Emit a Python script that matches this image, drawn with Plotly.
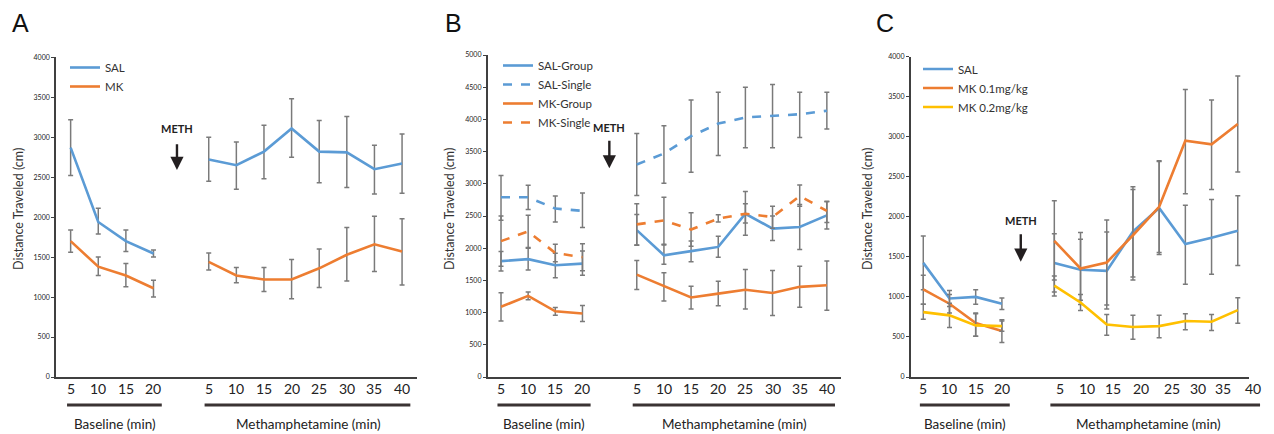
import plotly.graph_objects as go

# ---------------- data ----------------
base_min = ["5", "10", "15", "20"]
meth_min = ["5", "10", "15", "20", "25", "30", "35", "40"]

# Panel A
a_sal_base = [2870, 1940, 1700, 1545]
a_sal_base_hi = [3220, 2110, 1840, 1590]
a_sal_base_lo = [2520, 1790, 1570, 1500]
a_mk_base = [1700, 1380, 1270, 1110]
a_mk_base_hi = [1840, 1500, 1420, 1210]
a_mk_base_lo = [1560, 1270, 1130, 1000]
a_sal_meth = [2720, 2650, 2820, 3110, 2820, 2810, 2600, 2670]
a_sal_meth_hi = [3000, 2940, 3150, 3480, 3210, 3260, 2900, 3040]
a_sal_meth_lo = [2450, 2350, 2480, 2750, 2430, 2370, 2290, 2300]
a_mk_meth = [1440, 1270, 1220, 1220, 1360, 1530, 1660, 1570]
a_mk_meth_hi = [1550, 1370, 1370, 1470, 1600, 1870, 2010, 1980]
a_mk_meth_lo = [1340, 1180, 1070, 980, 1120, 1200, 1320, 1150]

# Panel B
b_salg_base = [1800, 1830, 1735, 1760]
b_salg_base_hi = [1950, 2000, 1920, 1957]
b_salg_base_lo = [1646, 1660, 1540, 1580]
b_sals_base = [2790, 2790, 2615, 2580]
b_sals_base_hi = [3130, 2977, 2810, 2857]
b_sals_base_lo = [2433, 2600, 2407, 2320]
b_mkg_base = [1090, 1260, 1020, 985]
b_mkg_base_hi = [1310, 1320, 1080, 1110]
b_mkg_base_lo = [870, 1200, 960, 860]
b_mks_base = [2110, 2260, 1925, 1860]
b_mks_base_hi = [2500, 2511, 2061, 2071]
b_mks_base_lo = [1720, 2009, 1790, 1650]
b_salg_meth = [2280, 1890, 1955, 2020, 2535, 2305, 2330, 2510]
b_salg_meth_hi = [2525, 2050, 2110, 2185, 2690, 2500, 2680, 2720]
b_salg_meth_lo = [2045, 1750, 1790, 1860, 2390, 2120, 1980, 2300]
b_sals_meth = [3300, 3470, 3740, 3935, 4030, 4050, 4080, 4135]
b_sals_meth_hi = [3780, 3900, 4300, 4420, 4500, 4540, 4420, 4420]
b_sals_meth_lo = [2820, 3010, 3180, 3440, 3560, 3560, 3720, 3850]
b_mkg_meth = [1590, 1415, 1235, 1295, 1355, 1305, 1400, 1425]
b_mkg_meth_hi = [1810, 1620, 1410, 1485, 1670, 1655, 1720, 1800]
b_mkg_meth_lo = [1360, 1180, 1055, 1105, 1055, 955, 1085, 1035]
b_mks_meth = [2370, 2430, 2290, 2460, 2535, 2485, 2810, 2580]
b_mks_meth_hi = [2690, 2790, 2550, 2520, 2880, 2650, 2980, 2730]
b_mks_meth_lo = [2050, 2060, 2030, 2407, 2200, 2310, 2650, 2400]

# Panel C
c_sal_base = [1425, 980, 1000, 915]
c_sal_base_hi = [1760, 1080, 1090, 988]
c_sal_base_lo = [1090, 880, 910, 842]
c_mk1_base = [1095, 915, 675, 575]
c_mk1_base_hi = [1270, 1030, 800, 715]
c_mk1_base_lo = [910, 800, 510, 430]
c_mk2_base = [810, 770, 645, 635]
c_mk2_base_hi = [910, 920, 790, 700]
c_mk2_base_lo = [720, 617, 510, 570]
c_sal_meth = [1425, 1340, 1325, 1815, 2110, 1660, 1740, 1825]
c_sal_meth_hi = [1790, 1720, 1810, 2340, 2690, 2146, 2218, 2263]
c_sal_meth_lo = [1063, 960, 850, 1250, 1530, 1159, 1284, 1393]
c_mk1_meth = [1700, 1355, 1430, 1770, 2125, 2950, 2905, 3160]
c_mk1_meth_hi = [2200, 1805, 1960, 2375, 2700, 3590, 3460, 3760]
c_mk1_meth_lo = [1210, 905, 900, 1210, 1555, 2290, 2340, 2560]
c_mk2_meth = [1140, 930, 655, 625, 635, 700, 690, 835]
c_mk2_meth_hi = [1260, 1030, 780, 770, 770, 790, 780, 990]
c_mk2_meth_lo = [1010, 830, 520, 470, 490, 590, 580, 670]

# ---------------- style ----------------
BLUE = "#5B9BD5"
ORANGE = "#ED7D31"
YELLOW = "#FFC000"
DARK = "#404040"
ERR = "#7a7a7a"
FONT = "Lato"

n_b = len(base_min)
n_m = len(meth_min)
xpos = list(range(n_b)) + [n_b] + [n_b + 1 + j for j in range(n_m)]


def series(base, meth):
    return list(base) + [None] + list(meth)


def trace(name, base, meth, bhi, mhi, blo, mlo, color, dash, xa, ya, leg):
    y = series(base, meth)
    hi = series(bhi, mhi)
    lo = series(blo, mlo)
    plus = [(h - v) if v is not None else 0 for v, h in zip(y, hi)]
    minus = [(v - l) if v is not None else 0 for v, l in zip(y, lo)]
    return go.Scatter(
        x=xpos, y=y, name=name, mode="lines", connectgaps=False,
        line=dict(color=color, width=2.6, dash=dash),
        error_y=dict(type="data", symmetric=False, array=plus, arrayminus=minus,
                     color=ERR, thickness=1.5, width=2.5),
        xaxis=xa, yaxis=ya, legend=leg,
    )


fig = go.Figure()
# A
fig.add_trace(trace("SAL", a_sal_base, a_sal_meth, a_sal_base_hi, a_sal_meth_hi,
                    a_sal_base_lo, a_sal_meth_lo, BLUE, "solid", "x", "y", "legend"))
fig.add_trace(trace("MK", a_mk_base, a_mk_meth, a_mk_base_hi, a_mk_meth_hi,
                    a_mk_base_lo, a_mk_meth_lo, ORANGE, "solid", "x", "y", "legend"))
# B
fig.add_trace(trace("SAL-Group", b_salg_base, b_salg_meth, b_salg_base_hi, b_salg_meth_hi,
                    b_salg_base_lo, b_salg_meth_lo, BLUE, "solid", "x2", "y2", "legend2"))
fig.add_trace(trace("SAL-Single", b_sals_base, b_sals_meth, b_sals_base_hi, b_sals_meth_hi,
                    b_sals_base_lo, b_sals_meth_lo, BLUE, "dash", "x2", "y2", "legend2"))
fig.add_trace(trace("MK-Group", b_mkg_base, b_mkg_meth, b_mkg_base_hi, b_mkg_meth_hi,
                    b_mkg_base_lo, b_mkg_meth_lo, ORANGE, "solid", "x2", "y2", "legend2"))
fig.add_trace(trace("MK-Single", b_mks_base, b_mks_meth, b_mks_base_hi, b_mks_meth_hi,
                    b_mks_base_lo, b_mks_meth_lo, ORANGE, "dash", "x2", "y2", "legend2"))
# C
fig.add_trace(trace("SAL", c_sal_base, c_sal_meth, c_sal_base_hi, c_sal_meth_hi,
                    c_sal_base_lo, c_sal_meth_lo, BLUE, "solid", "x3", "y3", "legend3"))
fig.add_trace(trace("MK 0.1mg/kg", c_mk1_base, c_mk1_meth, c_mk1_base_hi, c_mk1_meth_hi,
                    c_mk1_base_lo, c_mk1_meth_lo, ORANGE, "solid", "x3", "y3", "legend3"))
fig.add_trace(trace("MK 0.2mg/kg", c_mk2_base, c_mk2_meth, c_mk2_base_hi, c_mk2_meth_hi,
                    c_mk2_base_lo, c_mk2_meth_lo, YELLOW, "solid", "x3", "y3", "legend3"))

W, H = 1274, 434
MT, MB = 55, 57
PH = H - MT - MB


def py(pix):
    return (H - MB - pix) / PH


def xaxis(dom, rng):
    return dict(domain=dom, range=rng, showline=True, linecolor=DARK, linewidth=1.6,
                showgrid=False, zeroline=False, showticklabels=False, ticks="", fixedrange=True)


def yaxis(anchor, top, rmax):
    return dict(anchor=anchor, domain=[0, top], range=[0, rmax], dtick=500,
                showline=True, linecolor=DARK, linewidth=1.6, showgrid=False, zeroline=False,
                ticks="outside", ticklen=3, tickcolor=DARK, fixedrange=True,
                tickfont=dict(size=7, color="#222222", family=FONT))


panels = [
    # (xaxis key, yaxis key, domain px, range, top px, ymax)
    ("x", "y", (56, 416.7), [-0.53, 12.53], 57.3, 4000),
    ("x2", "y2", (487.7, 840.7), [-0.49, 12.51], 55.0, 5000),
    ("x3", "y3", (910.7, 1249.3), [-0.48, 12.44], 56.7, 4000),
]


def px_of(i, p):
    """category position -> paper x for panel i"""
    _, _, dpx, rng, _, _ = panels[i]
    d0, d1 = dpx[0] / W, dpx[1] / W
    return d0 + (p - rng[0]) / (rng[1] - rng[0]) * (d1 - d0)


layout = dict(
    width=W, height=H, margin=dict(l=0, r=0, t=MT, b=MB),
    plot_bgcolor="white", paper_bgcolor="white",
    font=dict(family=FONT, color=DARK),
)
for i, (xk, yk, dpx, rng, toppx, ymax) in enumerate(panels):
    suffix = "" if i == 0 else str(i + 1)
    layout["xaxis" + suffix] = xaxis([dpx[0] / W, dpx[1] / W], rng)
    layout["yaxis" + suffix] = yaxis(xk, py(toppx), ymax)
    if i > 0:
        layout["xaxis" + suffix]["anchor"] = yk

legend_style = dict(bgcolor="rgba(0,0,0,0)", font=dict(size=11.5, color="#333333", family=FONT),
                    xanchor="left", yanchor="top", tracegroupgap=0, itemwidth=30)
layout["legend"] = dict(x=65 / W, y=py(53), **legend_style)
layout["legend2"] = dict(x=498 / W, y=py(51), **legend_style)
layout["legend3"] = dict(x=918 / W, y=py(54.5), **legend_style)
fig.update_layout(**layout)

ann = []
shapes = []
label_y = py(388.5)
bar_y = py(405)
text_y = py(423.5)

# per-panel tick label positions (category index units)
base_pos = list(range(n_b))
meth_pos = [n_b + 1 + j for j in range(n_m)]
c_meth_label_pos = [5.22, 6.26, 7.25, 8.3, 9.48, 10.47, 11.45, 12.6]
meth_bar_end = [12.3, 12.3, 12.85]

for i, (xk, yk, dpx, rng, toppx, ymax) in enumerate(panels):
    mpos = c_meth_label_pos if i == 2 else meth_pos
    for p, t in zip(base_pos + mpos, base_min + meth_min):
        ann.append(dict(x=px_of(i, p), y=label_y, xref="paper", yref="paper", text=t,
                        showarrow=False, font=dict(size=14, color="#222222", family=FONT),
                        yanchor="middle", xanchor="center"))
    # group bars
    shapes.append(dict(type="line", xref="paper", yref="paper", x0=px_of(i, -0.13),
                       x1=px_of(i, 3.3), y0=bar_y, y1=bar_y,
                       line=dict(color="#3a3333", width=3)))
    shapes.append(dict(type="line", xref="paper", yref="paper", x0=px_of(i, 4.85),
                       x1=px_of(i, meth_bar_end[i]), y0=bar_y, y1=bar_y,
                       line=dict(color="#3a3333", width=3)))
    ann.append(dict(x=px_of(i, 1.6), y=text_y, xref="paper", yref="paper", text="Baseline (min)",
                    showarrow=False, font=dict(size=13.5, color="#222222", family=FONT),
                    yanchor="middle", xanchor="center"))
    ann.append(dict(x=px_of(i, 8.6), y=text_y, xref="paper", yref="paper",
                    text="Methamphetamine (min)", showarrow=False,
                    font=dict(size=13.5, color="#222222", family=FONT),
                    yanchor="middle", xanchor="center"))

# y-axis titles
for xc in (18, 449, 867):
    ann.append(dict(x=xc / W, y=py(209), xref="paper", yref="paper", text="Distance Traveled (cm)",
                    textangle=-90, showarrow=False, font=dict(size=12.5, color="#333333", family=FONT),
                    xanchor="center", yanchor="middle"))

# panel letters
for xc, letter in ((20, "A"), (453, "B"), (885, "C")):
    ann.append(dict(x=xc / W, y=py(23), xref="paper", yref="paper", text=letter,
                    showarrow=False, font=dict(size=25, color="#111111", family="Liberation Sans"),
                    xanchor="center", yanchor="middle"))

# METH arrows: (xaxis, yaxis, x, text_y, tail_y, head_y)
meth_arrows = [
    ("x", "y", 3.85, 3108, 2930, 2590),
    ("x2", "y2", 3.99, 3873, 3690, 3240),
    ("x3", "y3", 3.72, 1959, 1800, 1440),
]
for xk, yk, xm, ty, tail, head in meth_arrows:
    ann.append(dict(x=xm, y=ty, xref=xk, yref=yk, text="<b>METH</b>", showarrow=False,
                    font=dict(size=11, color="#222222", family=FONT), yanchor="middle"))
    ann.append(dict(x=xm, y=head, ax=xm, ay=tail, xref=xk, yref=yk, axref=xk, ayref=yk,
                    text="", showarrow=True, arrowhead=2, arrowsize=1.1, arrowwidth=2.4,
                    arrowcolor="#231F20"))

fig.update_layout(annotations=ann, shapes=shapes)
fig.write_html("out.html", config={"displayModeBar": False},
               post_script="document.body.style.margin='0px';")
